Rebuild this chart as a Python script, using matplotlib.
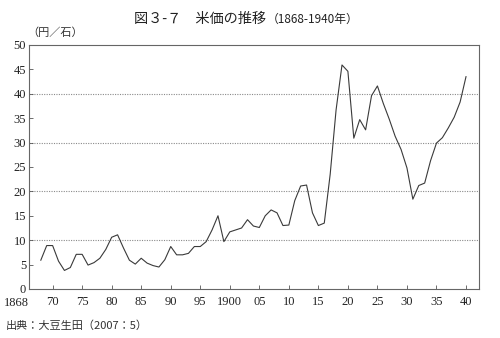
"""図3-7 米価の推移 (1868-1940年) — 再現図."""

import matplotlib
matplotlib.use('Agg')
import matplotlib.pyplot as plt

# データ
years = list(range(1868, 1941))
rice_price = [
    5.9, 8.9, 8.9, 5.7, 3.8, 4.4, 7.1, 7.1, 4.9, 5.4,      # 1868-1877
    6.3, 8.1, 10.6, 11.1, 8.4, 5.9, 5.1, 6.3, 5.3, 4.8,    # 1878-1887
    4.5, 6.0, 8.7, 7.0, 7.0, 7.3, 8.7, 8.7, 9.7, 12.1,     # 1888-1897
    15.0, 9.7, 11.7, 12.1, 12.5, 14.2, 12.9, 12.6, 15.0, 16.2,  # 1898-1907
    15.6, 13.0, 13.1, 18.1, 21.1, 21.3, 15.6, 13.0, 13.5, 23.5,  # 1908-1917
    36.7, 45.9, 44.6, 30.9, 34.7, 32.6, 39.6, 41.6, 38.0, 34.8,  # 1918-1927
    31.3, 28.6, 24.8, 18.4, 21.2, 21.7, 26.3, 29.9, 31.0, 33.0,  # 1928-1937
    35.2, 38.3, 43.5,                                            # 1938-1940
]

x_ticks = [1870, 1875, 1880, 1885, 1890, 1895, 1900, 1905, 1910,
           1915, 1920, 1925, 1930, 1935, 1940]
x_labels = ['70', '75', '80', '85', '90', '95', '1900', '05', '10',
            '15', '20', '25', '30', '35', '40']
y_ticks = list(range(0, 51, 5))
grid_levels = [10, 20, 30, 40]

TITLE = '図３-７　米価の推移'
TITLE_SUB = '（1868-1940年）'
UNIT = '（円／石）'
SOURCE = '出典：大豆生田（2007：5）'

JP = ['Noto Sans CJK JP', 'DejaVu Sans']
SERIF = 'Liberation Serif'

fig = plt.figure(figsize=(5.0, 3.38), dpi=100)
ax = fig.add_axes([0.058, 0.145, 0.9, 0.722])

for lv in grid_levels:
    ax.axhline(lv, color='#8a8a8a', linestyle=(0, (1, 1.2)), linewidth=0.8,
               zorder=1)

ax.plot(years, rice_price, color='#3a3a3a', linewidth=0.8, zorder=3)

ax.set_xlim(1866, 1942.2)
ax.set_ylim(0, 50)
ax.set_xticks(x_ticks)
ax.set_xticklabels(x_labels, fontfamily=SERIF, fontsize=9)
ax.set_yticks(y_ticks)
ax.set_yticklabels([str(v) for v in y_ticks], fontfamily=SERIF, fontsize=9)
ax.tick_params(axis='both', direction='in', length=3, width=0.6,
               color='#555555', labelcolor='#222222')
ax.tick_params(axis='x', pad=5)
ax.tick_params(axis='y', pad=2)
for sp in ax.spines.values():
    sp.set_color('#666666')
    sp.set_linewidth(0.8)

# 左端の年ラベル
ax.text(-0.027, -0.058, '1868', transform=ax.transAxes, ha='center',
        va='center', fontfamily=SERIF, fontsize=9, color='#222222')

# タイトル・単位・出典
fig.text(0.532, 0.944, TITLE, ha='right', va='center', fontfamily=JP,
         fontsize=10.2, color='#222222')
fig.text(0.534, 0.942, TITLE_SUB, ha='left', va='center', fontfamily=JP,
         fontsize=8.5, color='#222222')
fig.text(0.054, 0.902, UNIT, ha='left', va='center', fontfamily=JP,
         fontsize=8, color='#333333')
fig.text(0.012, 0.038, SOURCE, ha='left', va='center', fontfamily=JP,
         fontsize=8, color='#333333')

fig.savefig('out.png', dpi=100)
plt.close(fig)
